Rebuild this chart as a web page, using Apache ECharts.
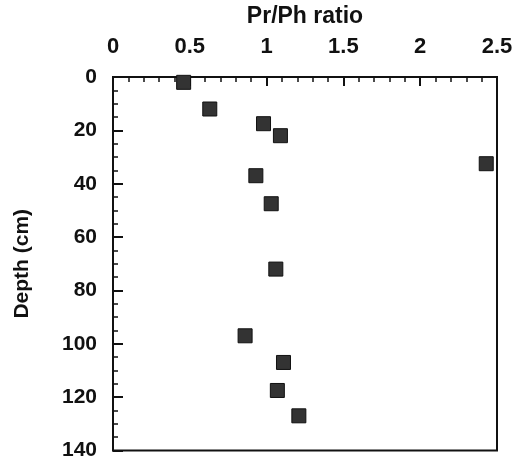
<!DOCTYPE html>
<html><head><meta charset="utf-8">
<script src="https://cdn.jsdelivr.net/npm/echarts@6/dist/echarts.min.js"></script>
<style>html,body{margin:0;padding:0;background:#fff}#c{width:516px;height:461px}</style>
</head><body><div id="c"></div>
<script>
const prPhRatio = [0.46, 0.63, 0.98, 1.09, 2.43, 0.93, 1.03, 1.06, 0.86, 1.11, 1.07, 1.21];
const depthCm   = [2, 12, 17.5, 22, 32.5, 37, 47.5, 72, 97, 107, 117.5, 127];
const xTicks = [0, 0.5, 1, 1.5, 2, 2.5];
const yTicks = [0, 20, 40, 60, 80, 100, 120, 140];

const pts = prPhRatio.map((v, i) => [v, depthCm[i]]);
const chart = echarts.init(document.getElementById('c'));
const font = {fontFamily: 'Liberation Sans, Arial, sans-serif', fontWeight: 'bold', color: '#111'};
chart.setOption({
  animation: false,
  backgroundColor: '#fff',
  grid: {left: 113, right: 19, top: 76, bottom: 9, show: true, borderColor: '#111', borderWidth: 2, backgroundColor: 'transparent'},
  xAxis: {
    type: 'value', position: 'top', min: xTicks[0], max: xTicks[xTicks.length - 1], interval: 0.5,
    name: 'Pr/Ph ratio', nameLocation: 'middle', nameGap: 49,
    nameTextStyle: Object.assign({fontSize: 23}, font),
    axisLine: {show: true, lineStyle: {color: '#111', width: 2}},
    axisTick: {show: true, inside: true, length: 9, lineStyle: {color: '#111', width: 2}},
    minorTick: {show: true, splitNumber: 5, length: 5, lineStyle: {color: '#111', width: 1.5}},
    splitLine: {show: false},
    axisLabel: Object.assign({fontSize: 22, margin: 19, formatter: v => String(v)}, font)
  },
  yAxis: {
    type: 'value', inverse: true, min: yTicks[0], max: yTicks[yTicks.length - 1], interval: 20,
    name: 'Depth (cm)', nameLocation: 'middle', nameGap: 80, nameRotate: 90,
    nameTextStyle: Object.assign({fontSize: 21}, font),
    axisLine: {show: true, lineStyle: {color: '#111', width: 2}},
    axisTick: {show: true, inside: true, length: 10, lineStyle: {color: '#111', width: 2}},
    minorTick: {show: true, splitNumber: 4, length: 5, lineStyle: {color: '#111', width: 1.5}},
    splitLine: {show: false},
    axisLabel: Object.assign({fontSize: 21, margin: 16}, font)
  },
  series: [{
    type: 'scatter', data: pts, symbol: 'rect', symbolSize: 14,
    itemStyle: {color: '#333', borderColor: '#111', borderWidth: 1, opacity: 1}
  }]
});
</script></body></html>
